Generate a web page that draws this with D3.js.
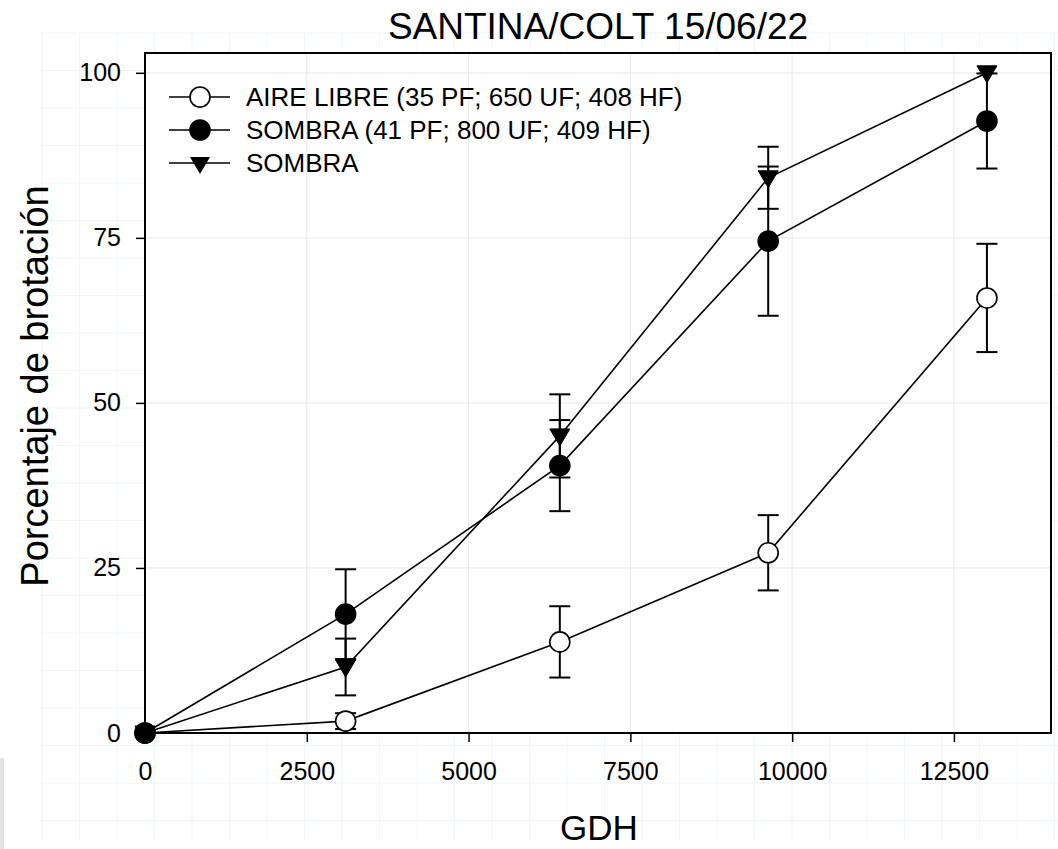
<!DOCTYPE html>
<html>
<head>
<meta charset="utf-8">
<script src="https://cdn.jsdelivr.net/npm/d3@7"></script>
<style>
  html, body { margin: 0; padding: 0; background: #fff; }
  svg { display: block; }
  text { font-family: "Liberation Sans", Arial, sans-serif; fill: #000; }
</style>
</head>
<body>
<svg id="chart" width="1058" height="849"></svg>
<script>
// ---- data ----
const gdh = [0, 3100, 6410, 9630, 13010];
const aireLibre = [0, 1.8, 13.8, 27.3, 65.9];
const aireLibreErr = [0, 1.2, 5.4, 5.7, 8.2];
const sombra = [0, 18.0, 40.5, 74.5, 92.7];
const sombraErr = [0, 6.8, 6.9, 11.3, 7.2];
const sombra2 = [0, 10.0, 45.0, 84.1, 100];
const sombra2Err = [0, 4.3, 6.3, 4.7, 0];
const xTicks = [0, 2500, 5000, 7500, 10000, 12500];
const yTicks = [0, 25, 50, 75, 100];
const seriesNames = ["AIRE LIBRE (35 PF; 650 UF; 408 HF)", "SOMBRA (41 PF; 800 UF; 409 HF)", "SOMBRA"];
const titleText = "SANTINA/COLT 15/06/22";
const xTitle = "GDH";
const yTitle = "Porcentaje de brotación";

// ---- layout ----
const L = 145, R = 1051, T = 53, B = 733;
const svg = d3.select("#chart");

const x = d3.scaleLinear().domain([0, 14000]).range([L, R]);
const y = d3.scaleLinear().domain([0, 103]).range([B, T]);

// faint background grid (outside plot)
const bg = svg.append("g");
for (let gx = 42; gx <= 1058; gx += 37.5) {
  bg.append("line").attr("x1", gx).attr("x2", gx).attr("y1", 33).attr("y2", 840)
    .attr("stroke", "#f0f6f6").attr("stroke-width", 1);
}
for (let gy = 33; gy <= 840; gy += 37.5) {
  bg.append("line").attr("x1", 40).attr("x2", 1058).attr("y1", gy).attr("y2", gy)
    .attr("stroke", "#f0f6f6").attr("stroke-width", 1);
}
svg.append("rect").attr("x", 0).attr("y", 758).attr("width", 4).attr("height", 91).attr("fill", "#e6e4e6");

// plot area
svg.append("rect").attr("x", L).attr("y", T).attr("width", R - L).attr("height", B - T).attr("fill", "#fff");

// grid at ticks
const grid = svg.append("g");
grid.selectAll("line.vx").data(xTicks.slice(1)).join("line")
  .attr("x1", d => x(d)).attr("x2", d => x(d)).attr("y1", T).attr("y2", B)
  .attr("stroke", "#ececec").attr("stroke-width", 1.2);
grid.selectAll("line.hy").data(yTicks.slice(1)).join("line")
  .attr("x1", L).attr("x2", R).attr("y1", d => y(d)).attr("y2", d => y(d))
  .attr("stroke", "#ececec").attr("stroke-width", 1.2);

// axes
const xAxis = d3.axisBottom(x).tickValues(xTicks).tickSize(9).tickSizeOuter(0).tickPadding(20).tickFormat(d3.format("d"));
const yAxis = d3.axisLeft(y).tickValues(yTicks).tickSize(9).tickSizeOuter(0).tickPadding(15).tickFormat(d3.format("d"));
const gx = svg.append("g").attr("transform", `translate(0,${B})`).call(xAxis);
const gy = svg.append("g").attr("transform", `translate(${L},0)`).call(yAxis);
[gx, gy].forEach(g => {
  g.select(".domain").remove();
  g.selectAll(".tick line").attr("stroke", "#000").attr("stroke-width", 1.5);
  g.selectAll(".tick text").attr("font-size", 25).attr("font-family", "Liberation Sans, Arial, sans-serif").attr("fill", "#000");
});

// frame
svg.append("rect").attr("x", L).attr("y", T).attr("width", R - L).attr("height", B - T)
  .attr("fill", "none").attr("stroke", "#000").attr("stroke-width", 2);

// series
const series = [
  { vals: aireLibre, err: aireLibreErr, shape: "circle", fill: "#fff" },
  { vals: sombra, err: sombraErr, shape: "circle", fill: "#000" },
  { vals: sombra2, err: sombra2Err, shape: "tri", fill: "#000" }
];
const line = d3.line().x((d, i) => x(gdh[i])).y(d => y(d));
const triPath = "M-10,-7L10,-7L0,10Z";

const plot = svg.append("g");
series.forEach(s => {
  plot.append("path").datum(s.vals).attr("d", line)
    .attr("fill", "none").attr("stroke", "#000").attr("stroke-width", 1.6);
});
series.forEach(s => {
  const eb = plot.append("g");
  s.vals.forEach((v, i) => {
    const e = s.err[i];
    if (!e) return;
    const cx = x(gdh[i]);
    eb.append("line").attr("x1", cx).attr("x2", cx).attr("y1", y(v - e)).attr("y2", y(v + e))
      .attr("stroke", "#000").attr("stroke-width", 2);
    [v - e, v + e].forEach(c => {
      eb.append("line").attr("x1", cx - 10.5).attr("x2", cx + 10.5).attr("y1", y(c)).attr("y2", y(c))
        .attr("stroke", "#000").attr("stroke-width", 2);
    });
  });
});
[series[2], series[0], series[1]].forEach(s => {
  const g = plot.append("g");
  s.vals.forEach((v, i) => {
    if (s.shape === "circle") {
      g.append("circle").attr("cx", x(gdh[i])).attr("cy", y(v)).attr("r", 10)
        .attr("fill", s.fill).attr("stroke", "#000").attr("stroke-width", 1.6);
    } else {
      g.append("path").attr("d", triPath).attr("transform", `translate(${x(gdh[i])},${y(v)})`)
        .attr("fill", "#000").attr("stroke", "#000").attr("stroke-width", 1);
    }
  });
});

// legend
const legRows = [97, 130, 163];
const leg = svg.append("g");
series.forEach((s, i) => {
  const ry = legRows[i];
  leg.append("line").attr("x1", 169).attr("x2", 230).attr("y1", ry).attr("y2", ry)
    .attr("stroke", "#000").attr("stroke-width", 1.6);
  if (s.shape === "circle") {
    leg.append("circle").attr("cx", 200).attr("cy", ry).attr("r", 10)
      .attr("fill", s.fill).attr("stroke", "#000").attr("stroke-width", 1.6);
  } else {
    leg.append("path").attr("d", triPath).attr("transform", `translate(200,${ry + 1})`).attr("fill", "#000");
  }
  leg.append("text").attr("x", 246).attr("y", ry + 9).attr("font-size", 26).text(seriesNames[i]);
});

// titles
svg.append("text").attr("x", (L + R) / 2).attr("y", 39).attr("text-anchor", "middle")
  .attr("font-size", 37).text(titleText);
svg.append("text").attr("x", 599).attr("y", 840).attr("text-anchor", "middle")
  .attr("font-size", 35).text(xTitle);
svg.append("text").attr("transform", "translate(48,386) rotate(-90)").attr("text-anchor", "middle")
  .attr("font-size", 38).text(yTitle);
</script>
</body>
</html>
